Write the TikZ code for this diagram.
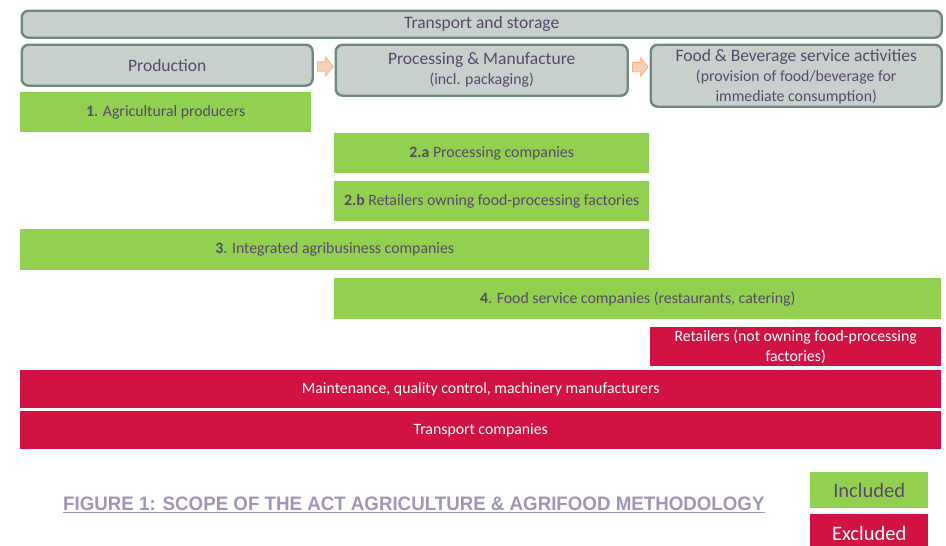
\documentclass[tikz,border=0pt]{standalone}
\usepackage{fontspec}
\setmainfont{Carlito}
\newfontfamily\figcapfont[FakeStretch=0.96]{Liberation Sans}
\usepackage{tikz}
\usetikzlibrary{shapes.arrows,positioning}
\definecolor{ScopeGrey}{HTML}{C8D0CE}
\definecolor{ScopeEdge}{HTML}{6C887F}
\definecolor{ScopeInk}{HTML}{574A69}
\definecolor{ScopeGreen}{HTML}{92D050}
\definecolor{ScopeRed}{HTML}{D11242}
\definecolor{ScopeOrange}{HTML}{F4B183}
\definecolor{ScopeLilac}{HTML}{A294B6}
\newcommand{\headfont}{\fontsize{17.5}{20}\selectfont}
\newcommand{\subfont}{\fontsize{15.8}{19.5}\selectfont}
\tikzset{
  stagebox/.style={rectangle,rounded corners=7pt,draw=ScopeEdge,line width=2.4pt,fill=ScopeGrey,text=ScopeInk,align=center,anchor=north west,inner sep=0pt,font=\headfont},
  inbox/.style={rectangle,fill=ScopeGreen,text=ScopeInk,align=center,anchor=north west,inner sep=0pt,font=\subfont},
  exbox/.style={rectangle,fill=ScopeRed,text=white,align=center,anchor=north west,inner sep=0pt,font=\subfont},
  flowarrow/.style={single arrow,draw=ScopeOrange,line width=0.8pt,fill=ScopeOrange!60,minimum height=15.5pt,single arrow head extend=4.75pt,single arrow tip angle=104,inner sep=0pt},
  legendbox/.style={rectangle,anchor=north west,inner sep=0pt,minimum width=118pt,font=\fontsize{20.5}{22}\selectfont},
  figcaption/.style={anchor=west,inner sep=0pt,text=ScopeLilac,font=\figcapfont\bfseries\fontsize{19.5}{22}\selectfont},
}

\begin{document}
\begin{tikzpicture}[x=1pt,y=-1pt]
  \clip (0,0) rectangle (946,546);

  % Value chain stages
  \node[stagebox, minimum width=920pt, minimum height=27pt] (transport) at (20.5,9.5) {Transport and storage};
  \node[stagebox, minimum width=291pt, minimum height=41pt] (production) at (20.5,43.5) {Production};
  \node[stagebox, minimum width=292pt, minimum height=51pt] (processing) at (334.5,43.5) {Processing \& Manufacture\\\subfont(incl. packaging)};
  \node[stagebox, minimum width=291pt, minimum height=62pt] (foodbev) at (649.5,43.5) {\rule{0pt}{14pt}Food \& Beverage service activities\\\subfont(provision of food/beverage for\\\subfont immediate consumption)};
  \node[flowarrow] (step1) at (323.5,66.5) {\rule{0pt}{8.5pt}};
  \node[flowarrow] (step2) at (638.5,67) {\rule{0pt}{8.5pt}};

  % Included
  \node[inbox, minimum width=291pt, minimum height=40pt] (agri) at (20,92) {\textbf{1}. Agricultural producers};
  \node[inbox, minimum width=315pt, minimum height=40pt] (proc2a) at (334,133) {\textbf{2.a} Processing companies};
  \node[inbox, minimum width=315pt, minimum height=40pt] (proc2b) at (334,181) {\textbf{2.b} Retailers owning food-processing factories};
  \node[inbox, minimum width=629pt, minimum height=41pt] (integ) at (20,229) {\textbf{3}. Integrated agribusiness companies};
  \node[inbox, minimum width=607pt, minimum height=41pt] (foodserv) at (334,278) {\textbf{4}. Food service companies (restaurants, catering)};

  % Excluded
  \node[exbox, minimum width=291pt, minimum height=39pt] (retail) at (650,327) {Retailers (not owning food-processing\\factories)};
  \node[exbox, minimum width=921pt, minimum height=38pt] (maint) at (20,370) {Maintenance, quality control, machinery manufacturers};
  \node[exbox, minimum width=921pt, minimum height=38pt] (carriers) at (20,411) {Transport companies};

  % Caption and legend
  \node[figcaption] (caption) at (63,505) {\underline{FIGURE 1: SCOPE OF THE ACT AGRICULTURE \& AGRIFOOD METHODOLOGY}};
  \node[legendbox, fill=ScopeGreen, text=ScopeInk, minimum height=36pt] (included) at (810,472) {Included};
  \node[legendbox, fill=ScopeRed, text=white, minimum height=38pt] (excluded) at (810,514) {Excluded};
\end{tikzpicture}
\end{document}
